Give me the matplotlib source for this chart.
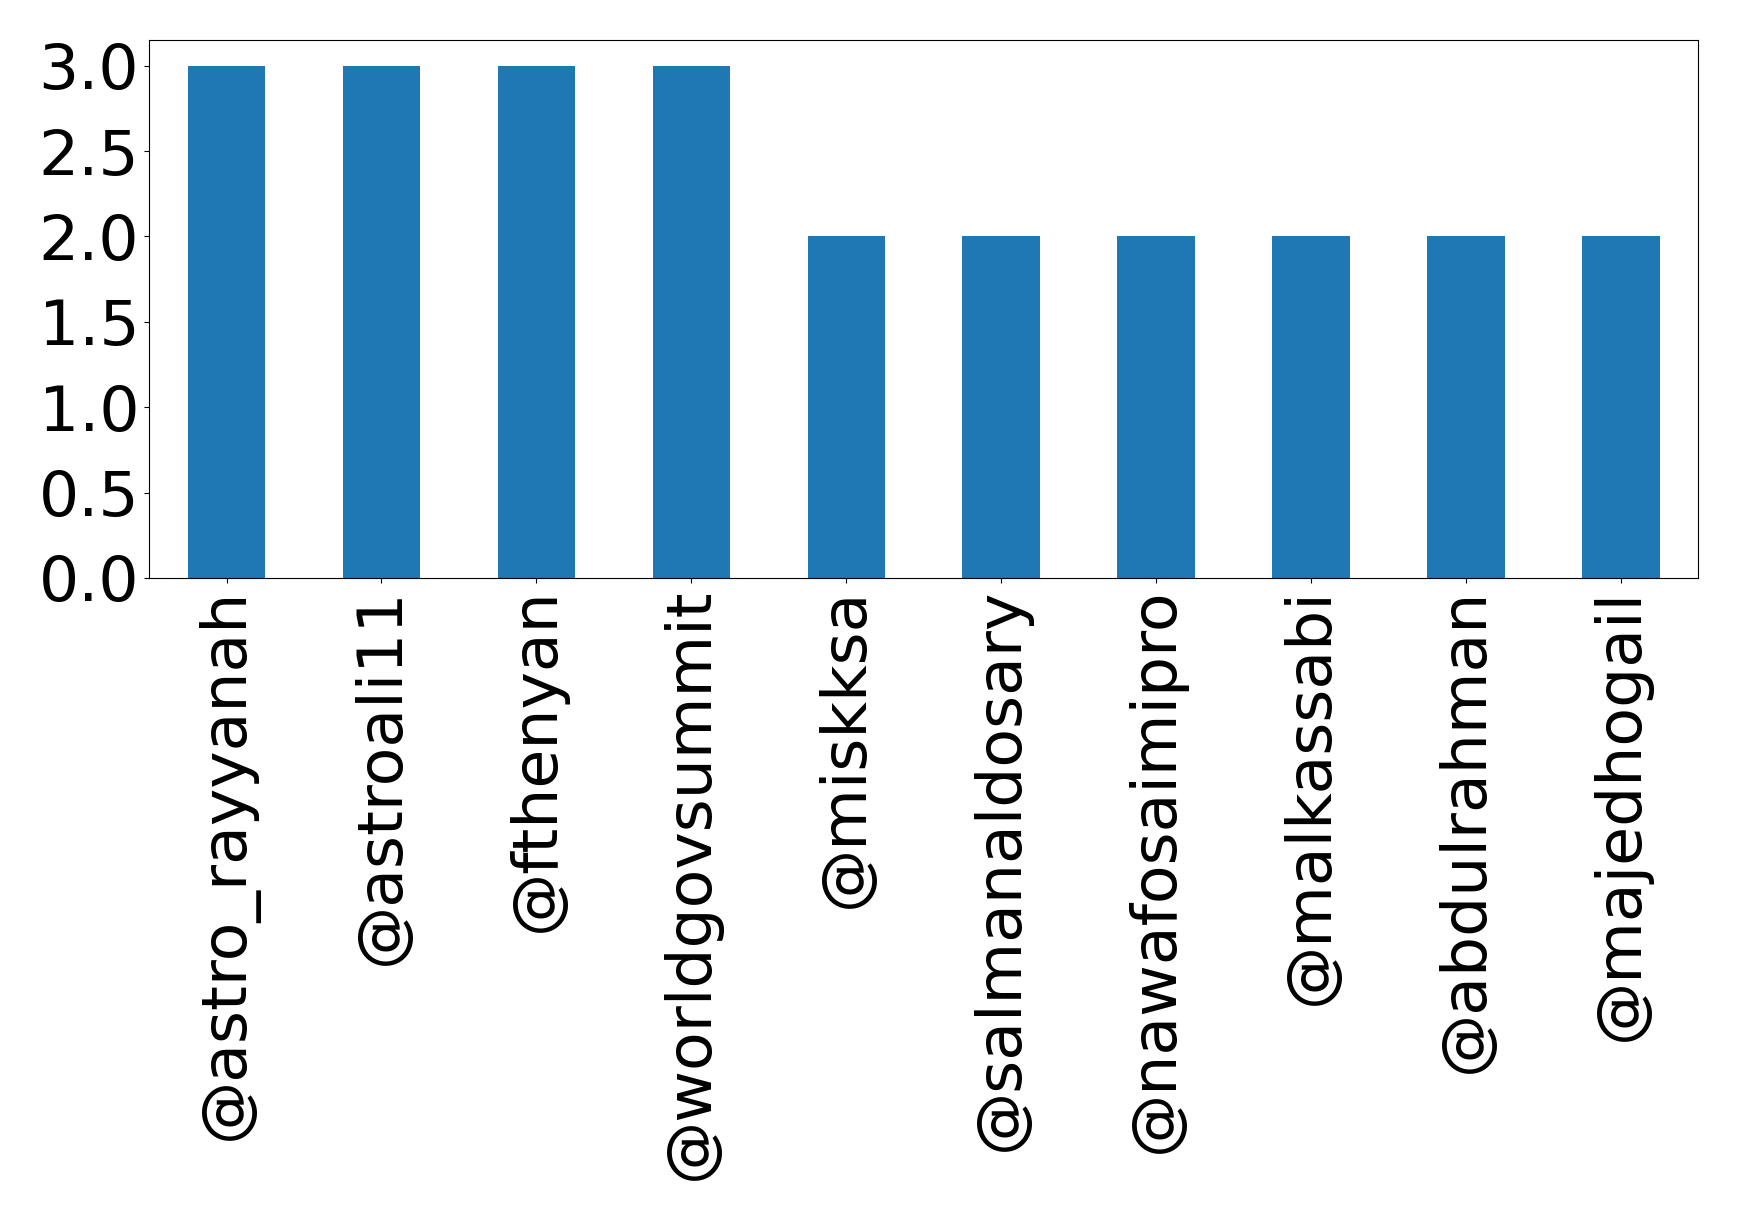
import matplotlib
matplotlib.use("Agg")
import matplotlib.pyplot as plt

users = ["@astro_rayyanah", "@astroali11", "@fthenyan", "@worldgovsummit", "@miskksa",
         "@salmanaldosary", "@nawafosaimipro", "@malkassabi", "@abdulrahman", "@majedhogail"]
counts = [3, 3, 3, 3, 2, 2, 2, 2, 2, 2]

fig = plt.figure(figsize=(17.39, 12.13), dpi=100)
ax = fig.add_axes([0.0857, 0.5235, 0.891, 0.4435])
x = list(range(len(users)))
ax.bar(x, counts, width=0.5, color="#1f77b4")
ax.set_xlim(-0.5, len(users) - 0.5)
ax.set_ylim(0, 3.15)
ax.set_xticks(x)
ax.set_xticklabels(users, rotation=90, fontsize=45.5)
ax.set_yticks([0.0, 0.5, 1.0, 1.5, 2.0, 2.5, 3.0])
ax.set_yticklabels(["0.0", "0.5", "1.0", "1.5", "2.0", "2.5", "3.0"], fontsize=45.5)
fig.savefig("out.png", dpi=100)
